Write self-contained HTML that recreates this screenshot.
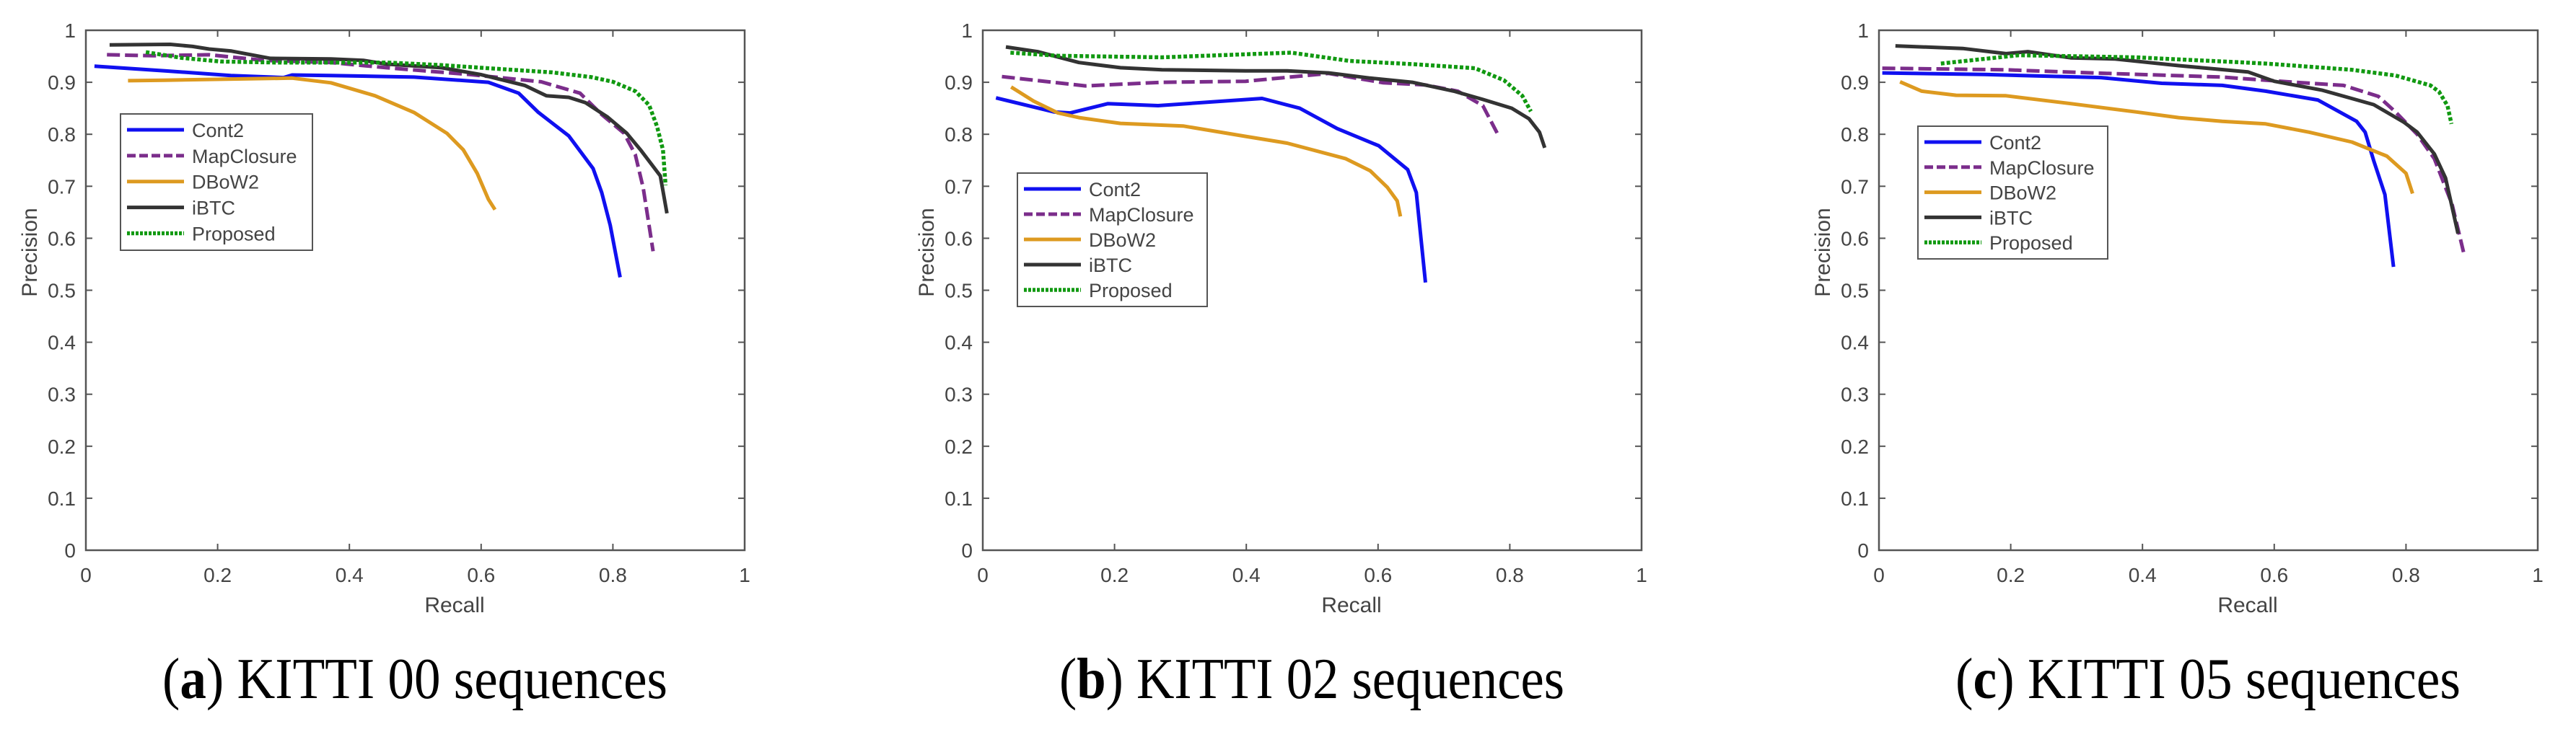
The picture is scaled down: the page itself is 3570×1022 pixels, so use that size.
<!DOCTYPE html>
<html><head><meta charset="utf-8"><style>
html,body{margin:0;padding:0;background:#fff;}
svg{display:block;}
</style></head><body>
<svg id="fig" width="3570" height="1022" xmlns="http://www.w3.org/2000/svg"></svg>
<script>
const seriesNames = ["Cont2","MapClosure","DBoW2","iBTC","Proposed"];
const xTicks = [0,0.2,0.4,0.6,0.8,1];
const yTicks = [0,0.1,0.2,0.3,0.4,0.5,0.6,0.7,0.8,0.9,1];
const tickLabelsX = ["0","0.2","0.4","0.6","0.8","1"];
const tickLabelsY = ["0","0.1","0.2","0.3","0.4","0.5","0.6","0.7","0.8","0.9","1"];
const captionLetters = ["a","b","c"];
const captionTexts = [" KITTI 00 sequences"," KITTI 02 sequences"," KITTI 05 sequences"];

// Panel a
const aCont2X=[0.013,0.12,0.22,0.30,0.313,0.372,0.498,0.611,0.657,0.687,0.733,0.77,0.783,0.796,0.811];
const aCont2Y=[0.931,0.922,0.913,0.909,0.914,0.913,0.910,0.900,0.879,0.842,0.797,0.734,0.688,0.625,0.525];
const aMapX=[0.032,0.103,0.187,0.271,0.372,0.456,0.582,0.691,0.75,0.783,0.817,0.834,0.846,0.861];
const aMapY=[0.953,0.951,0.953,0.942,0.938,0.928,0.915,0.901,0.879,0.838,0.802,0.761,0.697,0.575];
const aDbowX=[0.064,0.12,0.313,0.372,0.439,0.498,0.548,0.573,0.594,0.611,0.621];
const aDbowY=[0.903,0.904,0.908,0.899,0.874,0.842,0.802,0.770,0.725,0.675,0.655];
const aIbtcX=[0.036,0.128,0.162,0.187,0.221,0.28,0.372,0.422,0.456,0.54,0.599,0.666,0.699,0.733,0.758,0.792,0.821,0.842,0.872,0.882];
const aIbtcY=[0.972,0.973,0.969,0.964,0.960,0.946,0.945,0.942,0.935,0.928,0.915,0.894,0.874,0.871,0.861,0.833,0.802,0.770,0.72,0.648];
const aPropX=[0.091,0.145,0.204,0.288,0.456,0.54,0.624,0.708,0.767,0.8,0.834,0.855,0.867,0.876,0.88];
const aPropY=[0.958,0.947,0.940,0.938,0.938,0.933,0.926,0.919,0.910,0.901,0.883,0.856,0.815,0.770,0.702];
// Panel b
const bCont2X=[0.02,0.108,0.133,0.19,0.266,0.424,0.481,0.538,0.601,0.645,0.658,0.672];
const bCont2Y=[0.870,0.843,0.841,0.859,0.855,0.869,0.850,0.811,0.778,0.732,0.688,0.515];
const bMapX=[0.029,0.156,0.272,0.399,0.525,0.608,0.671,0.721,0.759,0.783];
const bMapY=[0.911,0.893,0.900,0.902,0.917,0.899,0.895,0.883,0.855,0.797];
const bDbowX=[0.043,0.077,0.114,0.146,0.209,0.304,0.399,0.462,0.551,0.588,0.614,0.629,0.634];
const bDbowY=[0.891,0.864,0.841,0.832,0.821,0.816,0.796,0.783,0.753,0.730,0.698,0.672,0.642];
const bIbtcX=[0.035,0.083,0.146,0.209,0.272,0.399,0.462,0.525,0.588,0.652,0.715,0.759,0.803,0.829,0.845,0.853];
const bIbtcY=[0.968,0.959,0.938,0.928,0.924,0.922,0.922,0.918,0.908,0.900,0.883,0.867,0.850,0.830,0.804,0.774];
const bPropX=[0.042,0.114,0.272,0.468,0.557,0.652,0.747,0.791,0.819,0.832];
const bPropY=[0.957,0.951,0.948,0.957,0.941,0.935,0.927,0.904,0.874,0.844];
// Panel c
const cCont2X=[0.005,0.16,0.337,0.429,0.521,0.587,0.666,0.725,0.738,0.751,0.768,0.781];
const cCont2Y=[0.918,0.915,0.909,0.898,0.894,0.883,0.866,0.825,0.804,0.749,0.684,0.545];
const cMapX=[0.005,0.193,0.324,0.521,0.62,0.705,0.758,0.784,0.817,0.843,0.87,0.888];
const cMapY=[0.927,0.924,0.918,0.910,0.901,0.894,0.873,0.843,0.800,0.753,0.665,0.570];
const cDbowX=[0.032,0.065,0.117,0.193,0.291,0.39,0.455,0.521,0.587,0.653,0.718,0.771,0.8,0.81];
const cDbowY=[0.901,0.883,0.875,0.874,0.859,0.843,0.832,0.825,0.820,0.804,0.785,0.758,0.725,0.686];
const cIbtcX=[0.025,0.127,0.193,0.226,0.291,0.357,0.455,0.56,0.6,0.672,0.751,0.797,0.817,0.843,0.86,0.879];
const cIbtcY=[0.970,0.965,0.955,0.959,0.947,0.945,0.932,0.920,0.902,0.885,0.857,0.823,0.804,0.762,0.716,0.609];
const cPropX=[0.094,0.212,0.39,0.587,0.718,0.784,0.837,0.85,0.863,0.869];
const cPropY=[0.936,0.952,0.948,0.936,0.924,0.913,0.894,0.882,0.855,0.820];

const styles=[
 {c:"#1010f0",d:"",w:5},
 {c:"#7b2d8b",d:"18,7",w:5},
 {c:"#dd9a20",d:"",w:5},
 {c:"#333333",d:"",w:5},
 {c:"#119911",d:"5,3",w:5.5}
];
const panels=[
 {L:119,xs:[aCont2X,aMapX,aDbowX,aIbtcX,aPropX],ys:[aCont2Y,aMapY,aDbowY,aIbtcY,aPropY],leg:{x:167,y:158,w:266,h:189}},
 {L:1362,xs:[bCont2X,bMapX,bDbowX,bIbtcX,bPropX],ys:[bCont2Y,bMapY,bDbowY,bIbtcY,bPropY],leg:{x:1410,y:240,w:263,h:185}},
 {L:2604,xs:[cCont2X,cMapX,cDbowX,cIbtcX,cPropX],ys:[cCont2Y,cMapY,cDbowY,cIbtcY,cPropY],leg:{x:2658,y:175,w:263,h:184}}
];
const NS="http://www.w3.org/2000/svg";
const svg=document.getElementById("fig");
const W=913,T=42,B=763;
function mk(tag,attrs,parent){const e=document.createElementNS(NS,tag);for(const k in attrs)e.setAttribute(k,attrs[k]);(parent||svg).appendChild(e);return e;}
panels.forEach((p,pi)=>{
 const g=mk("g",{});
 
 
 const sx=v=>p.L+v*W, sy=v=>B-v*(B-T);
 const frame=mk("rect",{x:p.L,y:T,width:W,height:B-T,fill:"none",stroke:"#555",["stroke-width"]:2.5},g);
 
 
 xTicks.forEach((v,i)=>{
  const x=sx(v);
  mk("line",{x1:x,y1:B,x2:x,y2:B-9,stroke:"#555","stroke-width":2},g);
  mk("line",{x1:x,y1:T,x2:x,y2:T+9,stroke:"#555","stroke-width":2},g);
  const t=mk("text",{x:x,y:807,"text-anchor":"middle","font-family":"Liberation Sans, sans-serif","font-size":28,fill:"#444"},g);
  t.textContent=tickLabelsX[i];
  
  
 });
 yTicks.forEach((v,i)=>{
  const y=sy(v);
  mk("line",{x1:p.L,y1:y,x2:p.L+9,y2:y,stroke:"#555","stroke-width":2},g);
  mk("line",{x1:p.L+W,y1:y,x2:p.L+W-9,y2:y,stroke:"#555","stroke-width":2},g);
  const t=mk("text",{x:p.L-14,y:y+10,"text-anchor":"end","font-family":"Liberation Sans, sans-serif","font-size":28,fill:"#444"},g);
  t.textContent=tickLabelsY[i];
  
  
 });
 const xl=mk("text",{x:p.L+511,y:849,"text-anchor":"middle","font-family":"Liberation Sans, sans-serif","font-size":30,fill:"#444"},g);
 xl.textContent="Recall";
 
 
 const yl=mk("text",{x:0,y:0,"text-anchor":"middle","font-family":"Liberation Sans, sans-serif","font-size":30,fill:"#444",transform:`translate(${p.L-68},350) rotate(-90)`},g);
 yl.textContent="Precision";
 
 
 p.xs.forEach((xs,si)=>{
  const pts=xs.map((v,k)=>sx(v).toFixed(1)+","+sy(p.ys[si][k]).toFixed(1)).join(" ");
  const s=styles[si];
  const pl=mk("polyline",{points:pts,fill:"none",stroke:s.c,"stroke-width":s.w,"stroke-linejoin":"round"},g);
  if(s.d)pl.setAttribute("stroke-dasharray",s.d);
  
  
 });
 const L=p.leg;
 const lg=mk("g",{},g);
 
 
 mk("rect",{x:L.x,y:L.y,width:L.w,height:L.h,fill:"#fff",stroke:"#555","stroke-width":2},lg);
 const step=(L.h-24)/4.6;
 seriesNames.forEach((n,si)=>{
  const y=L.y+22+step*si;
  const s=styles[si];
  const ln=mk("line",{x1:L.x+9,y1:y,x2:L.x+88,y2:y,stroke:s.c,"stroke-width":s.w},lg);
  if(s.d)ln.setAttribute("stroke-dasharray",s.d==="5,3"?"4,2":"12,5");
  const t=mk("text",{x:L.x+99,y:y+10,"font-family":"Liberation Sans, sans-serif","font-size":27,fill:"#444"},lg);
  t.textContent=n;
  
  
 });
 const cap=mk("text",{x:p.L+456,y:968,"text-anchor":"middle","font-family":"Liberation Serif, serif","font-size":80,fill:"#000",textLength:700,lengthAdjust:"spacingAndGlyphs"},g);
 
 
 const t1=mk("tspan",{},cap);t1.textContent="(";
 const t2=mk("tspan",{"font-weight":"bold"},cap);t2.textContent=captionLetters[pi];
 const t3=mk("tspan",{},cap);t3.textContent=")"+captionTexts[pi];
});
</script>
</body></html>
